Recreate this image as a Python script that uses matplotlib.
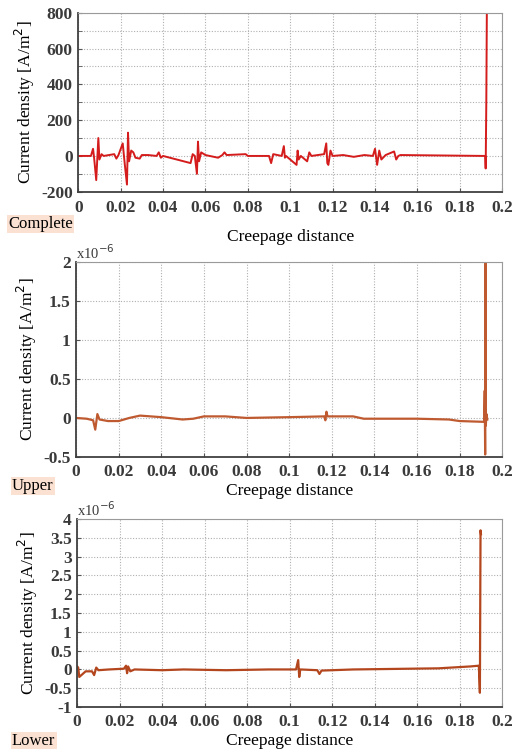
import numpy as np
import matplotlib
matplotlib.use("Agg")
import matplotlib.pyplot as plt
from matplotlib.ticker import FuncFormatter, MultipleLocator

plt.rcParams['font.family'] = ['Liberation Serif', 'DejaVu Serif']

# complete creepage path, current density in A/m^2
complete_x = [0, 0.006, 0.007, 0.0075, 0.0085, 0.0095, 0.010, 0.011, 0.012, 0.017, 0.018,
              0.019, 0.021, 0.022, 0.023, 0.0235, 0.024, 0.025, 0.026, 0.027, 0.029, 0.030,
              0.033, 0.037, 0.038, 0.039, 0.040, 0.053, 0.054, 0.055, 0.056, 0.0565, 0.057,
              0.058, 0.060, 0.066, 0.068, 0.069, 0.070, 0.079, 0.080, 0.090, 0.091, 0.092,
              0.096, 0.097, 0.0975, 0.098, 0.103, 0.1035, 0.104, 0.105, 0.108, 0.109, 0.110,
              0.116, 0.117, 0.1175, 0.118, 0.119, 0.120, 0.125, 0.130, 0.135, 0.139, 0.140,
              0.141, 0.142, 0.143, 0.145, 0.149, 0.150, 0.151, 0.152, 0.192, 0.1922, 0.1925, 0.1928]
complete_j = [0, 0, 40, -10, -135, 100, -20, 10, 0, 10, -15,
              5, 70, -50, -160, 130, -30, 30, 20, -10, -15, 5,
              5, 0, 20, -10, 0, -40, 10, 0, -100, 80, -30,
              20, 5, -10, 5, 20, 5, 10, 0, 0, -40, 10,
              0, 55, -10, 0, -50, 30, -20, 0, -30, 20, 0,
              10, 70, -40, -50, 30, 0, 5, -5, 5, 0, 40,
              -50, 30, -20, 5, 25, -20, 0, 5, 0, -70, 300, 900]

# upper surface
upper_x = [0, 0.005, 0.008, 0.009, 0.0095, 0.010, 0.011, 0.015, 0.020, 0.025, 0.030,
           0.040, 0.050, 0.055, 0.060, 0.070, 0.080, 0.100, 0.1165, 0.117, 0.1175, 0.118,
           0.130, 0.135, 0.160, 0.175, 0.180, 0.1915, 0.1918, 0.192, 0.1921, 0.1923, 0.1926, 0.193]
upper_j = np.array([0, -0.01, -0.03, -0.15, -0.05, 0.05, -0.02, -0.04, -0.04, 0.0, 0.03,
                    0.01, -0.02, -0.01, 0.02, 0.02, 0.0, 0.01, 0.02, -0.03, 0.08, 0.02,
                    0.02, -0.01, -0.01, -0.02, -0.04, -0.05, 0.35, -0.47, 2.1, -0.1, 0.05, -0.02]) * 1e-6

# lower surface
lower_x = [0, 0.0005, 0.001, 0.002, 0.004, 0.007, 0.008, 0.009, 0.010, 0.015, 0.022, 0.023,
           0.0235, 0.024, 0.025, 0.027, 0.040, 0.050, 0.070, 0.090, 0.103, 0.104, 0.1045, 0.105,
           0.113, 0.114, 0.115, 0.130, 0.170, 0.185, 0.189, 0.1895, 0.1898, 0.1900]
lower_j = np.array([0.08, 0.05, -0.2, -0.15, -0.05, -0.05, -0.15, 0.05, -0.02, 0.0, 0.02, 0.1,
                    -0.1, 0.08, -0.05, 0.0, -0.02, 0.0, -0.02, 0.0, 0.0, 0.25, -0.2, 0.0,
                    -0.02, -0.12, -0.03, 0.0, 0.03, 0.08, 0.1, -0.62, 3.7, 3.6]) * 1e-6

x_ticks = [0, 0.02, 0.04, 0.06, 0.08, 0.1, 0.12, 0.14, 0.16, 0.18, 0.2]
panel_names = ['Complete', 'Upper', 'Lower']

fig = plt.figure(figsize=(5.32, 7.49), dpi=100)
ax1 = fig.add_axes([0.147, 0.744, 0.797, 0.239])
ax2 = fig.add_axes([0.143, 0.390, 0.801, 0.260])
ax3 = fig.add_axes([0.145, 0.056, 0.799, 0.251])

ax1.plot(complete_x, complete_j, color='#d41c1c', lw=1.4)
ax2.plot(upper_x, upper_j, color='#bf5a30', lw=1.6)
ax3.plot(lower_x, lower_j, color='#b4461e', lw=1.6)

ax1.set_ylim(-200, 800)
ax1.set_yticks([-200, 0, 200, 400, 600, 800])
ax1.yaxis.set_minor_locator(MultipleLocator(100))
ax1.yaxis.set_major_formatter(FuncFormatter(lambda v, p: '%g' % v))
ax2.set_ylim(-0.5e-6, 2e-6)
ax2.set_yticks(np.array([-0.5, 0, 0.5, 1, 1.5, 2]) * 1e-6)
ax3.set_ylim(-1e-6, 4e-6)
ax3.set_yticks(np.arange(-1, 4.01, 0.5) * 1e-6)

micro = FuncFormatter(lambda v, p: '%g' % round(v * 1e6, 3))
ax2.yaxis.set_major_formatter(micro)
ax3.yaxis.set_major_formatter(micro)

for ax in [ax1, ax2, ax3]:
    ax.set_xlim(0, 0.2)
    ax.set_xticks(x_ticks)
    ax.xaxis.set_major_formatter(FuncFormatter(lambda v, p: '%g' % round(v, 3)))
    ax.grid(True, which='both', ls=(0, (1, 1.5)), color='#b0b0b0', lw=0.8)
    ax.tick_params(which='both', direction='in', length=3, color='#555555')
    ax.tick_params(axis='x', pad=5)
    ax.tick_params(axis='y', pad=4)
    ax.tick_params(labelsize=12.5, labelcolor='#3a3a3a')
    for lab in ax.get_xticklabels() + ax.get_yticklabels():
        lab.set_fontweight('bold')
    for s in ['top', 'right']:
        ax.spines[s].set_color('#9a9a9a')
    for s in ['left', 'bottom']:
        ax.spines[s].set_color('#404040')
        ax.spines[s].set_linewidth(1.3)
    ax.set_xlabel('Creepage distance', fontsize=12.5, labelpad=2)
    ax.set_ylabel('Current density [A/m$^2$]', fontsize=12.5, labelpad=3)

ax1.tick_params(axis='x', pad=6)
ax1.xaxis.labelpad = 9

# panel names, placed in figure pixels
name_pos = [(8, 224), (12, 486), (12, 741)]
for name, (px, py) in zip(panel_names, name_pos):
    fig.text(px / 532, 1 - py / 749, name, fontsize=12, ha='left', va='center',
             bbox=dict(boxstyle='square,pad=0.08', fc='#fbe1d2', ec='none'))

for ax in [ax2, ax3]:
    ax.text(0.0, 1.0, r'x10$^{-6}$', transform=ax.transAxes, fontsize=10.5,
            color='#3a3a3a', ha='left', va='bottom')

fig.savefig('out.png', dpi=100)
